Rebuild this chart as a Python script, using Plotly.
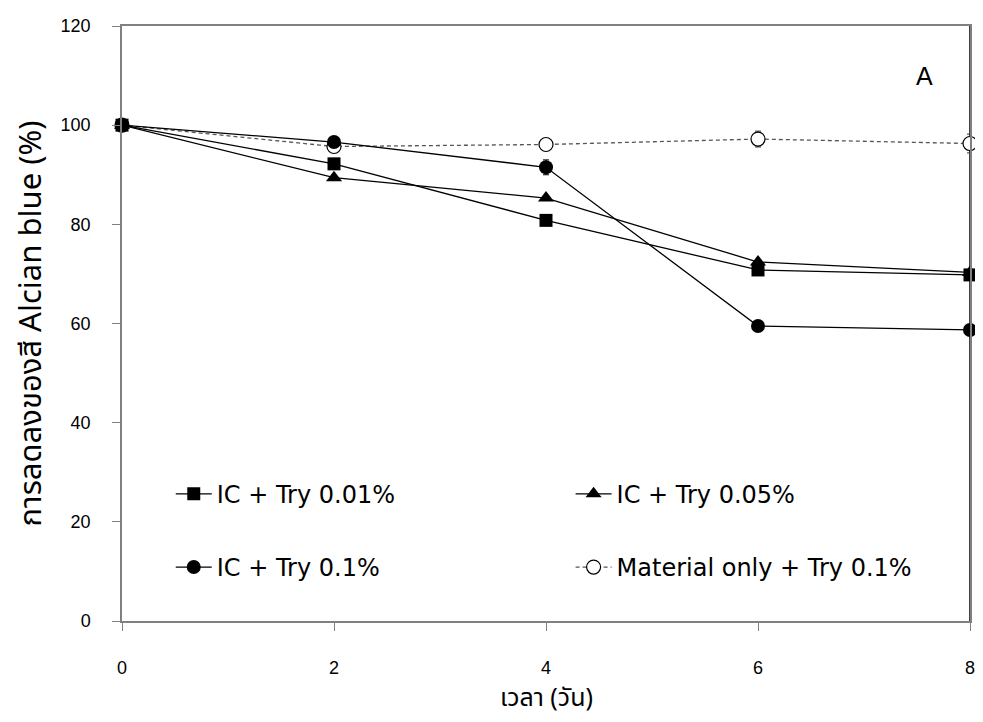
import plotly.graph_objects as go

days = [0, 2, 4, 6, 8]
ic_001 = [100, 92.2, 80.8, 70.8, 69.8]
ic_005 = [100, 89.4, 85.3, 72.4, 70.3]
ic_01 = [100, 96.6, 91.5, 59.5, 58.7]
ic_01_err = [0.3, 0.5, 1.5, 0.8, 0.8]
mat_01 = [100, 95.7, 96.1, 97.2, 96.3]
mat_01_err = [0.5, 0.8, 0.8, 1.6, 1.9]

x_ticks = [0, 2, 4, 6, 8]
y_ticks = [0, 20, 40, 60, 80, 100, 120]

x_title = "เวลา (วัน)"
y_title = "การลดลงของสี Alcian blue (%)"

# page body has an 8px margin -> figure is 975x714 so that it fills the 983x722 window
legend_font = dict(family="DejaVu Sans", size=24, color="black")
tick_font = dict(family="Liberation Sans, Arial", size=18, color="black")
thai_font = "Noto Sans Thai, Noto Sans Thai UI, Leelawadee UI, Tahoma, Noto Sans, DejaVu Sans"

fig = go.Figure()

fig.add_trace(go.Scatter(
    x=days, y=mat_01, name="Material only + Try 0.1%", mode="lines+markers",
    line=dict(color="#555555", width=1.3, dash="4px,3px"),
    marker=dict(symbol="circle", size=14, color="white", line=dict(color="black", width=1.2)),
    error_y=dict(type="data", array=mat_01_err, color="#333333", thickness=1, width=3),
    cliponaxis=False, legend="legend4"))
fig.add_trace(go.Scatter(
    x=days, y=ic_001, name="IC + Try 0.01%", mode="lines+markers",
    line=dict(color="black", width=1.3),
    marker=dict(symbol="square", size=13, color="black"),
    cliponaxis=False, legend="legend", showlegend=True))
fig.add_trace(go.Scatter(
    x=days, y=ic_005, name="IC + Try 0.05%", mode="lines+markers",
    line=dict(color="black", width=1.3),
    marker=dict(symbol="triangle-up", size=14, color="black"),
    cliponaxis=False, legend="legend2"))
fig.add_trace(go.Scatter(
    x=days, y=ic_01, name="IC + Try 0.1%", mode="lines+markers",
    line=dict(color="black", width=1.3),
    marker=dict(symbol="circle", size=14, color="black"),
    error_y=dict(type="data", array=ic_01_err, color="black", thickness=1, width=3),
    cliponaxis=False, legend="legend3"))

def leg(x, y):
    return dict(x=x, y=y, xanchor="left", yanchor="middle", orientation="v",
                bgcolor="rgba(0,0,0,0)", font=legend_font, itemwidth=36,
                borderwidth=0)

fig.update_layout(
    width=975, height=714,
    showlegend=True,
    margin=dict(l=114, r=8, t=16, b=101),
    plot_bgcolor="white", paper_bgcolor="white",
    legend=leg(0.0575, 0.213),
    legend2=leg(0.529, 0.213),
    legend3=leg(0.0575, 0.090),
    legend4=leg(0.529, 0.090),
    xaxis=dict(range=[0, 8], tickvals=x_ticks, ticks="outside", ticklen=8, tickcolor="#808080",
               showline=True, linecolor="#808080", linewidth=1.5, mirror=True, showgrid=False,
               zeroline=False, tickfont=tick_font, ticklabelstandoff=22),
    yaxis=dict(range=[0, 120], tickvals=y_ticks, ticks="outside", ticklen=8, tickcolor="#808080",
               showline=True, linecolor="#808080", linewidth=1.5, mirror=True, showgrid=False,
               zeroline=False, tickfont=tick_font, ticklabelstandoff=18,
               title=dict(text=y_title, font=dict(family=thai_font, size=31, color="black"), standoff=12)),
    shapes=[dict(type="line", xref="paper", yref="paper", x0=1, x1=1, y0=0, y1=1,
                 line=dict(color="black", width=1.5), layer="below")],
    annotations=[
        dict(text="A", x=0.946, y=0.916, xref="paper", yref="paper", showarrow=False,
             xanchor="center", yanchor="middle",
             font=dict(family="Liberation Sans", size=25, color="black")),
        dict(text=x_title, x=0.5, y=-0.129, xref="paper", yref="paper", showarrow=False,
             xanchor="center", yanchor="middle",
             font=dict(family=thai_font, size=25, color="black")),
    ],
)

fig.write_html("out.html")
